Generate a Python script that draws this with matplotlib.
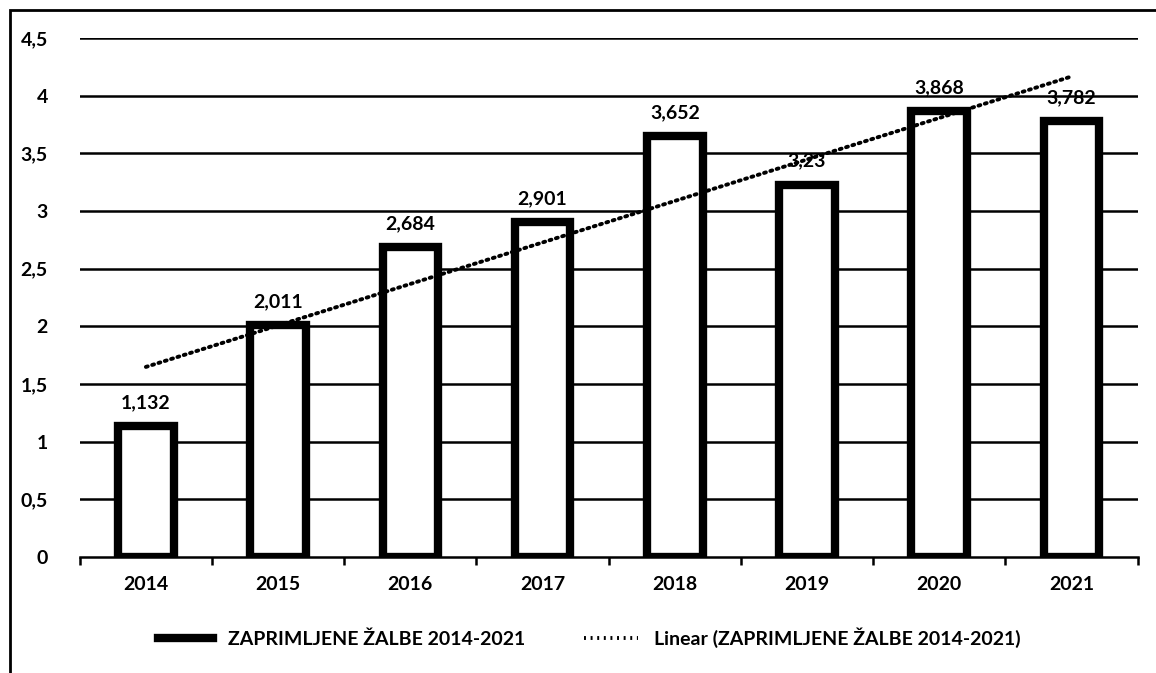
import matplotlib.pyplot as plt
import numpy as np
from matplotlib.lines import Line2D
from matplotlib.patches import Rectangle

years = ['2014', '2015', '2016', '2017', '2018', '2019', '2020', '2021']
values = [1.132, 2.011, 2.684, 2.901, 3.652, 3.23, 3.868, 3.782]
labels = ['1,132', '2,011', '2,684', '2,901', '3,652', '3,23', '3,868', '3,782']
y_ticks = [0, 0.5, 1, 1.5, 2, 2.5, 3, 3.5, 4, 4.5]
y_tick_labels = ['0', '0,5', '1', '1,5', '2', '2,5', '3', '3,5', '4', '4,5']

plt.rcParams['font.family'] = ['Lato', 'DejaVu Sans']

fig = plt.figure(figsize=(11.56, 6.73), dpi=100)
ax = fig.add_axes([0.069, 0.1724, 0.915, 0.771])

x = np.arange(len(years))

# gridlines behind bars
for t in y_ticks[1:]:
    ax.axhline(t, color='black', lw=1.8, zorder=0)

ax.bar(x, values, width=0.42, color='white', edgecolor='black', linewidth=6, zorder=2)

for xi, v, lab in zip(x, values, labels):
    ax.text(xi, v + 0.13, lab, ha='center', va='bottom', fontsize=14,
            fontweight='bold', zorder=4)

# linear trend
k, b = np.polyfit(x, values, 1)
ax.plot(x, k * x + b, color='black', lw=2.8, linestyle=(0, (0.5, 1.2)),
        dash_capstyle='round', zorder=3)

ax.set_xlim(-0.5, 7.5)
ax.set_ylim(0, 4.5)
ax.set_yticks(y_ticks)
ax.set_yticklabels(y_tick_labels, fontsize=14, fontweight='bold')
ax.set_xticks(x)
ax.set_xticklabels(years, fontsize=14, fontweight='bold')
ax.set_xticks(np.arange(-0.5, 8, 1), minor=True)
ax.tick_params(axis='x', which='major', length=0, pad=14)
ax.tick_params(axis='x', which='minor', length=6, width=1.8, direction='out')
ax.tick_params(axis='y', length=0, pad=23)

for s in ['left', 'right', 'top']:
    ax.spines[s].set_visible(False)
ax.spines['bottom'].set_linewidth(1.8)

handles = [Line2D([0], [0], color='black', lw=6),
           Line2D([0], [0], color='black', lw=2.8, linestyle=(0, (0.5, 1.2)))]
fig.legend(handles, ['ZAPRIMLJENE ŽALBE 2014-2021', 'Linear (ZAPRIMLJENE ŽALBE 2014-2021)'],
           loc='center', bbox_to_anchor=(0.51, 0.053), ncol=2, frameon=False,
           prop={'size': 14, 'weight': 'bold'}, handlelength=2.8, columnspacing=3)

fig.patches.append(Rectangle((0.009, -0.01), 1.2, 0.995, transform=fig.transFigure,
                             fill=False, edgecolor='black', lw=2))

fig.savefig('out.png', dpi=100)
